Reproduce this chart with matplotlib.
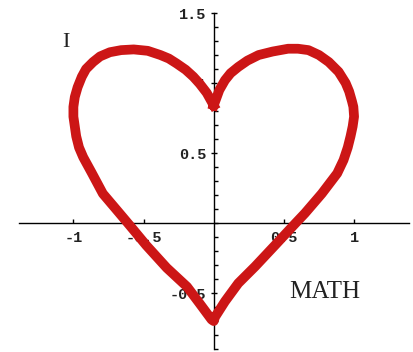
import matplotlib
matplotlib.use("Agg")
import matplotlib.pyplot as plt
from matplotlib.ticker import MultipleLocator, FixedLocator

# heart outline (dip -> left lobe -> tip -> right lobe -> dip)
heart_x = [0.0, -0.05, -0.10, -0.145, -0.20, -0.265, -0.32, -0.38, -0.47, -0.57,
           -0.66, -0.74, -0.81, -0.86, -0.91, -0.94, -0.97, -0.99, -1.0, -1.0,
           -0.99, -0.98, -0.96, -0.93, -0.87, -0.79, -0.68, -0.60, -0.48, -0.335,
           -0.19, -0.10, -0.015, 0.0,
           0.01, 0.08, 0.175, 0.295, 0.44, 0.57, 0.65, 0.77, 0.88, 0.925,
           0.955, 0.975, 0.99, 1.0, 0.995, 0.985, 0.965, 0.94, 0.89, 0.82,
           0.75, 0.675, 0.60, 0.53, 0.42, 0.32, 0.24, 0.175, 0.12, 0.08, 0.04, 0.0]
heart_y = [0.84, 0.93, 0.995, 1.045, 1.095, 1.14, 1.175, 1.2, 1.23, 1.24,
           1.235, 1.22, 1.19, 1.15, 1.10, 1.045, 0.97, 0.90, 0.83, 0.76,
           0.69, 0.62, 0.54, 0.47, 0.36, 0.21, 0.08, -0.015, -0.16, -0.32,
           -0.455, -0.575, -0.69, -0.70,
           -0.67, -0.56, -0.43, -0.31, -0.155, -0.015, 0.07, 0.21, 0.355, 0.45,
           0.54, 0.62, 0.69, 0.76, 0.83, 0.87, 0.94, 1.0, 1.08, 1.15,
           1.20, 1.235, 1.245, 1.245, 1.225, 1.2, 1.16, 1.115, 1.07, 1.02, 0.95, 0.84]

xticks = [-1, -0.5, 0.5, 1]
xticklabels = ["-1", "-0.5", "0.5", "1"]
yticks = [-0.5, 0.5, 1, 1.5]
yticklabels = ["-0.5", "0.5", "1", "1.5"]

fig = plt.figure(figsize=(4.13, 3.52), dpi=100)
ax = fig.add_axes([0, 0, 1, 1])
ax.set_xlim(-1.523, 1.42)
ax.set_ylim(-0.921, 1.593)

# axes crossing at origin
for s in ["top", "right"]:
    ax.spines[s].set_visible(False)
ax.spines["left"].set_position(("data", 0))
ax.spines["bottom"].set_position(("data", 0))
ax.spines["left"].set_bounds(-0.9, 1.5)
ax.spines["bottom"].set_bounds(-1.39, 1.39)
ax.spines["left"].set_linewidth(1.0)
ax.spines["bottom"].set_linewidth(1.0)

ax.xaxis.set_major_locator(FixedLocator(xticks))
ax.set_xticklabels(xticklabels)
ax.yaxis.set_major_locator(FixedLocator(yticks))
ax.set_yticklabels(yticklabels)
ax.yaxis.set_minor_locator(MultipleLocator(0.1))

ax.tick_params(axis="x", which="major", direction="in", length=3, width=1,
               pad=6, labelsize=11)
ax.tick_params(axis="y", which="major", direction="inout", length=5, width=1,
               pad=3, labelsize=11)
ax.tick_params(axis="y", which="minor", direction="in", length=3, width=1)
for lab in ax.get_xticklabels() + ax.get_yticklabels():
    lab.set_family("Liberation Mono")
    lab.set_fontweight("bold")
    lab.set_color("#222222")

ax.plot(heart_x, heart_y, color="#cc1616", linewidth=7,
        solid_joinstyle="round", zorder=5)

ax.text(-1.05, 1.29, "I", family="Liberation Serif", fontsize=16,
        ha="center", va="center", color="#222222")
ax.text(0.79, -0.49, "MATH", family="Liberation Serif", fontsize=18,
        ha="center", va="center", color="#222222")

fig.savefig("out.png", dpi=100)
